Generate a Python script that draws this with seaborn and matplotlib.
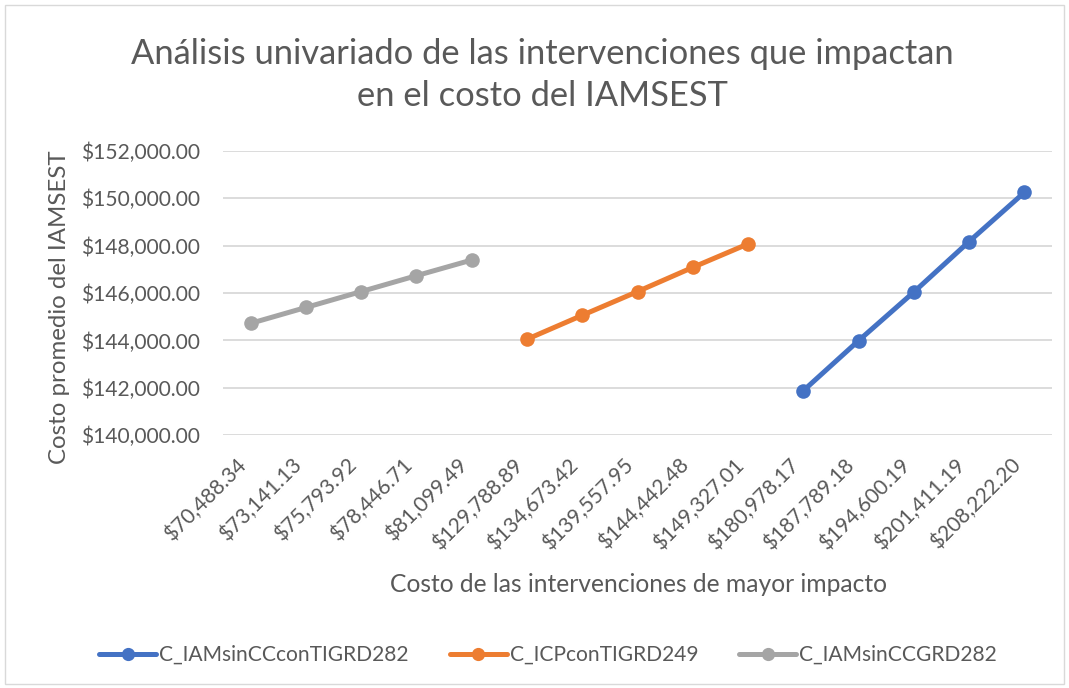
import numpy as np
import pandas as pd
import matplotlib
matplotlib.use("Agg")
import matplotlib.pyplot as plt
import matplotlib.transforms as mtrans
from matplotlib.lines import Line2D
from matplotlib.patches import Rectangle
import seaborn as sns

# ---- data ----
categories = ["$70,488.34", "$73,141.13", "$75,793.92", "$78,446.71", "$81,099.49",
              "$129,788.89", "$134,673.42", "$139,557.95", "$144,442.48", "$149,327.01",
              "$180,978.17", "$187,789.18", "$194,600.19", "$201,411.19", "$208,222.20"]
series_names = ["C_IAMsinCCconTIGRD282", "C_ICPconTIGRD249", "C_IAMsinCCGRD282"]
blue_cats = categories[10:15]
blue_vals = [141880, 143990, 146040, 148170, 150240]
orange_cats = categories[5:10]
orange_vals = [144050, 145060, 146060, 147080, 148070]
gray_cats = categories[0:5]
gray_vals = [144720, 145390, 146060, 146730, 147390]
yticks = [140000, 142000, 144000, 146000, 148000, 150000, 152000]
title = "Análisis univariado de las intervenciones que impactan\nen el costo del IAMSEST"
ylabel = "Costo promedio del IAMSEST"
xlabel = "Costo de las intervenciones de mayor impacto"

colors = {"C_IAMsinCCconTIGRD282": "#4472C4",
          "C_ICPconTIGRD249": "#ED7D31",
          "C_IAMsinCCGRD282": "#A5A5A5"}

pos = {c: i for i, c in enumerate(categories)}
rows = []
for name, cats, vals in [(series_names[0], blue_cats, blue_vals),
                         (series_names[1], orange_cats, orange_vals),
                         (series_names[2], gray_cats, gray_vals)]:
    for c, v in zip(cats, vals):
        rows.append({"serie": name, "x": pos[c], "y": v})
df = pd.DataFrame(rows)

sns.set_theme(style="white")
plt.rcParams["font.family"] = ["Lato", "DejaVu Sans"]
txt = "#595959"
W, H = 1069, 688

fig = plt.figure(figsize=(W/100, H/100), dpi=100)
renderer = fig.canvas.get_renderer()


def fit_size(s, target_px, start=14.0, rotation=0):
    """font size so that string s is target_px long"""
    t = fig.text(0, 0, s, fontsize=start)
    for _ in range(3):
        w = t.get_window_extent(renderer).width
        t.set_fontsize(t.get_fontsize() * target_px / w)
    fs = t.get_fontsize()
    t.remove()
    return fs


fs_tick = fit_size("$152,000.00", 120)
fs_title = fit_size("Análisis univariado de las intervenciones que impactan", 825)
fs_ylab = fit_size(ylabel, 311)
fs_xlab = fit_size(xlabel, 497)
fs_leg = fit_size(series_names[0], 249)

ax = fig.add_axes([223/W, 1-435.3/H, (1052-223)/W, (435.3-150.7)/H])

for name in series_names:
    sub = df[df["serie"] == name]
    sns.lineplot(data=sub, x="x", y="y", ax=ax, color=colors[name], lw=3.6,
                 marker="o", markersize=10.5, markeredgewidth=0, legend=False)

ax.set_xlim(-0.5, len(categories) - 0.5)
ax.set_ylim(yticks[0], yticks[-1])
ax.set_yticks(yticks)
ax.set_yticklabels([f"${v:,.2f}" for v in yticks])
ax.set_xticks(range(len(categories)))
ax.set_xticklabels(categories, rotation=45, ha="right")
off = mtrans.ScaledTranslation(4/100, 0, fig.dpi_scale_trans)
for lbl in ax.get_xticklabels():
    lbl.set_transform(lbl.get_transform() + off)
ax.tick_params(axis="y", length=0, pad=16.5, labelsize=fs_tick, labelcolor=txt)
ax.tick_params(axis="x", length=0, pad=14, labelsize=fs_tick, labelcolor=txt)
ax.yaxis.grid(True, color="#D9D9D9", lw=1.3)
ax.set_axisbelow(True)
for s in ax.spines.values():
    s.set_visible(False)
ax.set_xlabel("")
ax.set_ylabel("")

fig.text(60/W, 1-307.5/H, ylabel, rotation=90,
         ha="center", va="center", fontsize=fs_ylab, color=txt)
fig.text(638/W, 1-585/H, xlabel,
         ha="center", va="center", fontsize=fs_xlab, color=txt)
fig.text(542.5/W, 1-75/H, title,
         ha="center", va="center", fontsize=fs_title, color=txt, linespacing=1.4)

fpx = fs_leg * 100 / 72
handles = [Line2D([0], [0], color=colors[n], lw=3.6, marker="o", markersize=9.5,
                  markeredgewidth=0) for n in series_names]
leg = fig.legend(handles, series_names, loc="center",
                 bbox_to_anchor=(548/W, 1-655/H), ncol=3, frameon=False,
                 fontsize=fs_leg, handlelength=57/fpx, handletextpad=3/fpx,
                 columnspacing=41/fpx, labelcolor=txt)

fig.patches.append(Rectangle((5/W, 4/H), 1059/W, 679/H,
                             transform=fig.transFigure, fill=False,
                             edgecolor="#D9D9D9", lw=1))

fig.savefig("out.png", dpi=100, facecolor="white")
